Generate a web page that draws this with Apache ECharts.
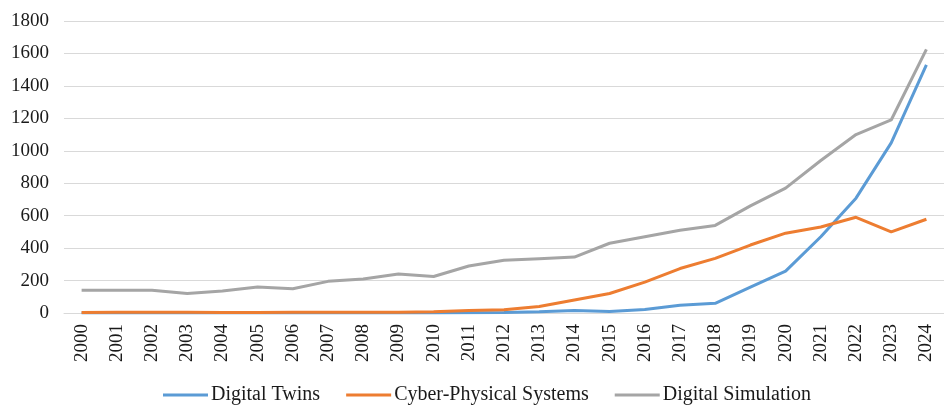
<!DOCTYPE html>
<html><head><meta charset="utf-8">
<script src="https://cdn.jsdelivr.net/npm/echarts@6/dist/echarts.min.js"></script>
<style>html,body{margin:0;padding:0;background:#fff}#c{width:944px;height:409px}</style>
</head><body><div id="c"></div>
<script>
const years = ['2000','2001','2002','2003','2004','2005','2006','2007','2008','2009','2010','2011','2012','2013','2014','2015','2016','2017','2018','2019','2020','2021','2022','2023','2024'];
const digitalTwins = [0,0,0,0,0,0,0,0,0,0,0,1,3,8,15,10,22,48,60,160,258,470,708,1049,1530];
const cyberPhysical = [3,4,5,4,3,3,4,4,5,5,8,15,20,40,80,120,190,274,337,419,492,530,590,500,578];
const digitalSimulation = [140,140,140,120,135,160,150,195,210,240,225,290,325,335,345,430,470,510,540,660,770,940,1100,1190,1625];
const yTicks = [0,200,400,600,800,1000,1200,1400,1600,1800];

const font = 'Liberation Serif, Times New Roman, serif';
const chart = echarts.init(document.getElementById('c'), null, {renderer:'canvas'});
chart.setOption({
  animation:false,
  color:['#5B9BD5','#ED7D31','#A5A5A5'],
  grid:{left:64,right:-6,top:21,bottom:96,containLabel:false},
  legend:{
    bottom:-1, left:158, itemWidth:45, itemHeight:3, itemGap:26,
    icon:'rect',
    textStyle:{fontFamily:font,fontSize:20,color:'#1a1a1a',padding:[0,0,0,-2]},
    data:['Digital Twins','Cyber-Physical Systems','Digital Simulation']
  },
  xAxis:{
    type:'category', data:years, boundaryGap:true,
    axisLine:{show:true,lineStyle:{color:'#d9d9d9',width:1}},
    axisTick:{show:false},
    axisLabel:{rotate:90,fontFamily:font,fontSize:19,color:'#1a1a1a',margin:11,interval:0}
  },
  yAxis:{
    type:'value', min:0, max:1800, interval:200,
    axisLine:{show:false}, axisTick:{show:false},
    splitLine:{lineStyle:{color:'#d9d9d9',width:1}},
    axisLabel:{fontFamily:font,fontSize:19,color:'#1a1a1a',margin:15,
      formatter:v=>yTicks.includes(v)?String(v):''}
  },
  series:[
    {name:'Digital Twins',type:'line',data:digitalTwins,symbol:'none',lineStyle:{width:3}},
    {name:'Cyber-Physical Systems',type:'line',data:cyberPhysical,symbol:'none',lineStyle:{width:3}},
    {name:'Digital Simulation',type:'line',data:digitalSimulation,symbol:'none',lineStyle:{width:3}}
  ]
});
</script></body></html>
